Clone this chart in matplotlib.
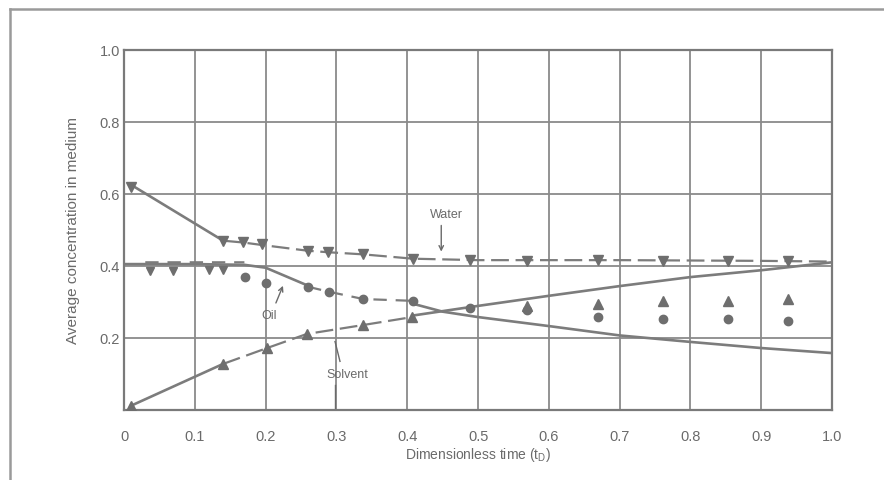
import numpy as np
import matplotlib
matplotlib.use('Agg')
import matplotlib.pyplot as plt
from matplotlib.patches import FancyArrowPatch

plt.rcParams['font.family'] = ['Liberation Sans', 'DejaVu Sans']

# experimental points
water_x = [0.01, 0.14, 0.168, 0.195, 0.26, 0.288, 0.338, 0.408, 0.489, 0.569, 0.67, 0.761, 0.853, 0.938]
water_y = [0.62, 0.469, 0.465, 0.46, 0.442, 0.439, 0.433, 0.42, 0.416, 0.414, 0.416, 0.415, 0.415, 0.415]

oil_tri_x = [0.037, 0.069, 0.12, 0.14]
oil_tri_y = [0.385, 0.385, 0.388, 0.388]
oil_x = [0.171, 0.2, 0.26, 0.29, 0.338, 0.408, 0.489, 0.569, 0.67, 0.761, 0.853, 0.938]
oil_y = [0.37, 0.352, 0.342, 0.328, 0.308, 0.303, 0.283, 0.278, 0.258, 0.252, 0.253, 0.246]

solv_x = [0.01, 0.14, 0.202, 0.258, 0.338, 0.407, 0.569, 0.67, 0.761, 0.853, 0.938]
solv_y = [0.01, 0.128, 0.172, 0.211, 0.236, 0.258, 0.29, 0.294, 0.303, 0.303, 0.308]

# curves (nan = break in the solid line)
water_solid_x = [0.01, 0.14]
water_solid_y = [0.625, 0.47]
water_dash_x = [0.14, 0.168, 0.195, 0.26, 0.288, 0.338, 0.408, 0.5, 0.6, 0.7, 0.8, 0.9, 1.0]
water_dash_y = [0.47, 0.465, 0.458, 0.442, 0.438, 0.432, 0.42, 0.416, 0.416, 0.416, 0.415, 0.414, 0.412]

oil_solid_x = [0.0, 0.1, 0.17, 0.2, 0.26, np.nan, 0.408, 0.45, 0.5, 0.6, 0.7, 0.8, 0.9, 1.0]
oil_solid_y = [0.405, 0.405, 0.403, 0.395, 0.345, np.nan, 0.295, 0.273, 0.258, 0.233, 0.207, 0.189, 0.172, 0.158]
oil_dash_x = [0.03, 0.17, np.nan, 0.26, 0.29, 0.338, 0.408]
oil_dash_y = [0.41, 0.41, np.nan, 0.342, 0.328, 0.308, 0.303]

solv_solid_x = [0.01, 0.14, np.nan, 0.407, 0.5, 0.6, 0.7, 0.8, 0.9, 1.0]
solv_solid_y = [0.012, 0.128, np.nan, 0.262, 0.289, 0.317, 0.344, 0.369, 0.388, 0.41]
solv_dash_x = [0.14, 0.202, 0.258, 0.338, 0.407]
solv_dash_y = [0.128, 0.172, 0.211, 0.236, 0.258]

x_ticks = [0, 0.1, 0.2, 0.3, 0.4, 0.5, 0.6, 0.7, 0.8, 0.9, 1.0]
x_labels = ['0', '0.1', '0.2', '0.3', '0.4', '0.5', '0.6', '0.7', '0.8', '0.9', '1.0']
y_ticks = [0.2, 0.4, 0.6, 0.8, 1.0]
y_labels = ['0.2', '0.4', '0.6', '0.8', '1.0']

line_c = '#7c7c7c'
mark_c = '#6e6e6e'
text_c = '#6a6a6a'

fig = plt.figure(figsize=(8.84, 4.81), dpi=100)
ax = fig.add_axes([0.1403, 0.1455, 0.801, 0.749])

# outer frame (left and top edge of the scanned page)
fig.add_artist(plt.Line2D([0.0115, 0.0115], [0.0, 0.979], color='#9a9a9a', lw=1.8))
fig.add_artist(plt.Line2D([0.0115, 1.0], [0.979, 0.979], color='#9a9a9a', lw=1.8))

ax.set_xlim(0, 1.0)
ax.set_ylim(0, 1.0)
ax.set_xticks(x_ticks)
ax.set_xticklabels(x_labels)
ax.set_yticks(y_ticks)
ax.set_yticklabels(y_labels)
ax.tick_params(length=0, labelsize=10.5, colors=text_c)
ax.tick_params(axis='x', pad=14)
ax.tick_params(axis='y', pad=3)
ax.grid(True, color='#8a8a8a', lw=1.3)
ax.set_axisbelow(True)
for s in ax.spines.values():
    s.set_color('#7a7a7a')
    s.set_linewidth(1.6)

# water
ax.plot(water_solid_x, water_solid_y, color=line_c, lw=1.9)
ax.plot(water_dash_x, water_dash_y, color=line_c, lw=1.6, dashes=(8, 3))
ax.plot(water_x, water_y, 'v', color=mark_c, ms=7.5, zorder=5)

# oil
ax.plot(oil_solid_x, oil_solid_y, color=line_c, lw=1.9)
ax.plot(oil_dash_x, oil_dash_y, color=line_c, lw=1.6, dashes=(6, 4))
ax.plot(oil_tri_x, oil_tri_y, 'v', color=mark_c, ms=6, zorder=5)
ax.plot(oil_x, oil_y, 'o', color=mark_c, ms=6, zorder=5)

# solvent
ax.plot(solv_solid_x, solv_solid_y, color=line_c, lw=1.9)
ax.plot(solv_dash_x, solv_dash_y, color=line_c, lw=1.6, dashes=(8, 3))
ax.plot(solv_x, solv_y, '^', color=mark_c, ms=7.5, zorder=5)

# labels on curves
ax.text(0.455, 0.545, 'Water', ha='center', va='center', fontsize=9, color=text_c)
ax.add_patch(FancyArrowPatch((0.448, 0.52), (0.448, 0.432), arrowstyle='->', mutation_scale=8,
                             color=text_c, lw=1))
ax.text(0.205, 0.265, 'Oil', ha='center', va='center', fontsize=9, color=text_c)
ax.add_patch(FancyArrowPatch((0.213, 0.29), (0.226, 0.352), arrowstyle='->', mutation_scale=8,
                             color=text_c, lw=1))
ax.text(0.315, 0.1, 'Solvent', ha='center', va='center', fontsize=9, color=text_c)
ax.plot([0.305, 0.298], [0.135, 0.19], color=text_c, lw=1)
ax.plot([0.298, 0.298], [0.07, 0.0], color=text_c, lw=1)

ax.set_xlabel('Dimensionless time (t$_\\mathregular{D}$)', fontsize=10, color=text_c, labelpad=1)
ax.set_ylabel('Average concentration in medium', fontsize=11, color=text_c, labelpad=14)

fig.savefig('out.png', dpi=100, facecolor='white')
